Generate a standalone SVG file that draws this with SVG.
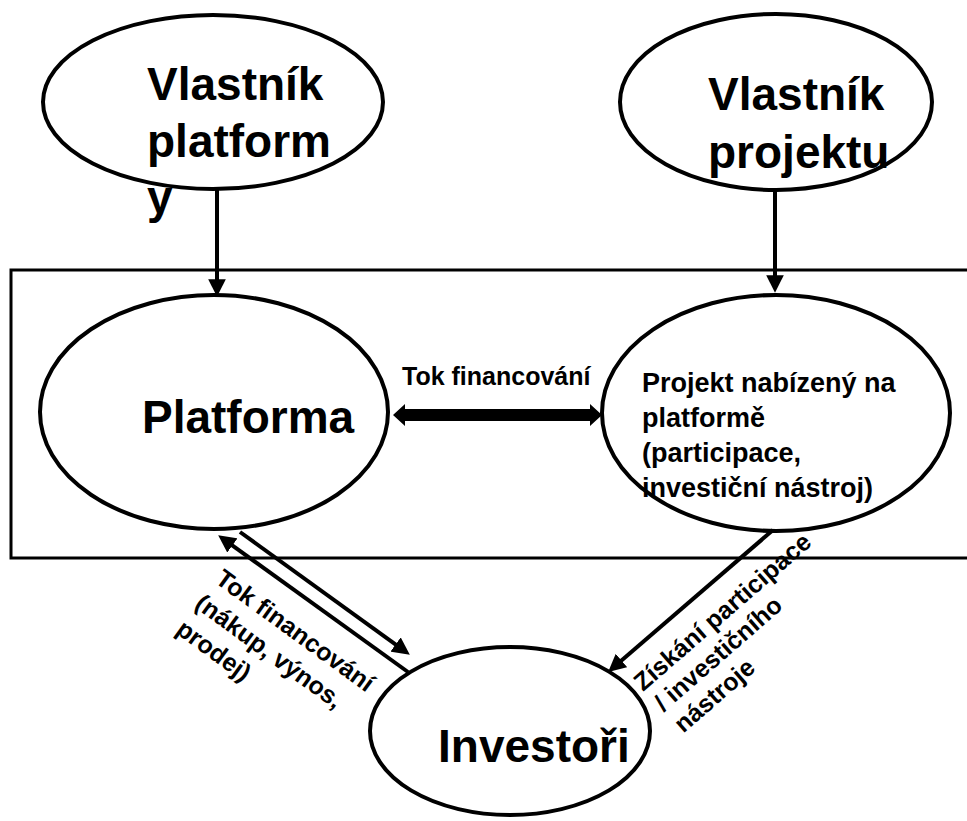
<svg xmlns="http://www.w3.org/2000/svg" width="967" height="821" viewBox="0 0 967 821">
<style>
  .node { fill: #ffffff; stroke: #000000; stroke-width: 4; }
  .box { fill: none; stroke: #000000; stroke-width: 3; }
  .big { font-family: "Liberation Sans", Arial, sans-serif; font-weight: bold; font-size: 46px; fill: #000000; }
  .mid { font-family: "Liberation Sans", Arial, sans-serif; font-weight: bold; font-size: 27px; fill: #000000; }
  .lbl { font-family: "Liberation Sans", Arial, sans-serif; font-weight: bold; font-size: 25px; fill: #000000; }
  .edge { stroke: #000000; stroke-width: 4; fill: none; marker-end: url(#arrow); }
</style>
<defs>
  <marker id="arrow" viewBox="0 0 10 10" markerWidth="4.4" markerHeight="4.4" refX="5" refY="5" orient="auto" markerUnits="strokeWidth">
    <path d="M0,0 L10,5 L0,10 Z" fill="#000000"/>
  </marker>
</defs>
<rect width="967" height="821" fill="#ffffff"/>

<g id="platform-boundary">
  <rect class="box" x="11" y="270" width="970" height="288"/>
</g>

<g id="node-vlastnik-platformy">
  <ellipse class="node" cx="213" cy="102" rx="170" ry="87"/>
  <text class="big" x="147" y="100">Vlastník</text>
  <text class="big" x="147" y="157">platform</text>
  <text class="big" x="147" y="213">y</text>
</g>

<g id="node-vlastnik-projektu">
  <ellipse class="node" cx="776" cy="102" rx="156" ry="88"/>
  <text class="big" x="708" y="110">Vlastník</text>
  <text class="big" x="708" y="168">projektu</text>
</g>

<g id="node-platforma">
  <ellipse class="node" cx="214" cy="412" rx="174" ry="117"/>
  <text class="big" x="142" y="433">Platforma</text>
</g>

<g id="node-projekt">
  <ellipse class="node" cx="776" cy="413" rx="174" ry="118"/>
  <text class="mid" x="642" y="392">Projekt nabízený na</text>
  <text class="mid" x="642" y="427">platformě</text>
  <text class="mid" x="642" y="462">(participace,</text>
  <text class="mid" x="642" y="497">investiční nástroj)</text>
</g>

<g id="node-investori">
  <ellipse class="node" cx="510" cy="731" rx="140" ry="84"/>
  <text class="big" x="438" y="762">Investoři</text>
</g>

<g id="connectors">
  <line class="edge" x1="217" y1="190" x2="217" y2="288"/>
  <line class="edge" x1="775" y1="190" x2="775" y2="284"/>
  <path d="M393,415 L405,404 L405,409 L590,409 L590,404 L602,415 L590,426 L590,421 L405,421 L405,426 Z" fill="#000000"/>
  <text class="lbl" x="402" y="385">Tok financování</text>
  <line class="edge" x1="408" y1="672" x2="225.3" y2="540.3"/>
  <line class="edge" x1="240" y1="532" x2="402.7" y2="649.7"/>
  <line class="edge" x1="773" y1="530" x2="614.8" y2="666.2"/>
  <g transform="translate(214,582) rotate(36)">
    <text class="lbl" x="0" y="0">Tok financování</text>
    <text class="lbl" x="-2" y="32">(nákup, výnos,</text>
    <text class="lbl" x="-2" y="64">prodej)</text>
  </g>
  <g transform="translate(643,692) rotate(-41)">
    <text class="lbl" x="0" y="0">Získání participace</text>
    <text class="lbl" x="2" y="29">/ investičního</text>
    <text class="lbl" x="3" y="58">nástroje</text>
  </g>
</g>
</svg>
